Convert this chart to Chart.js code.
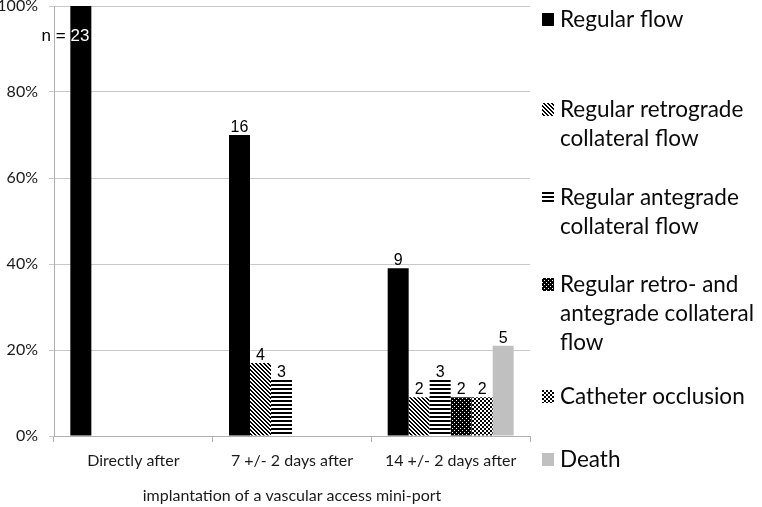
<!DOCTYPE html>
<html>
<head>
<meta charset="utf-8">
<script src="https://cdn.jsdelivr.net/npm/chart.js@4"></script>
<style>
  html, body { margin: 0; padding: 0; background: #fff; }
  canvas { display: block; }
</style>
</head>
<body>
<canvas id="chart" width="762" height="507"></canvas>
<script>
// data (percent of animals, n per bar)
const categories = ["Directly after", "7 +/- 2 days after", "14 +/- 2 days after"];
const legendLabels = [
  ["Regular flow"],
  ["Regular retrograde", "collateral flow"],
  ["Regular antegrade", "collateral flow"],
  ["Regular retro- and", "antegrade collateral", "flow"],
  ["Catheter occlusion"],
  ["Death"]
];
const regularFlow = [100, 70, 39];
const retrograde = [null, 17, 9];
const antegrade = [null, 13, 13];
const retroAntegrade = [null, null, 9];
const catheterOcclusion = [null, null, 9];
const death = [null, null, 21];

const regularFlowN = [23, 16, 9];
const retrogradeN = [null, 4, 2];
const antegradeN = [null, 3, 3];
const retroAntegradeN = [null, null, 2];
const catheterOcclusionN = [null, null, 2];
const deathN = [null, null, 5];

const yTicks = [0, 20, 40, 60, 80, 100];
const xTitle = "implantation of a vascular access mini-port";

const ctx = document.getElementById("chart").getContext("2d");

// small tiles for the hatched fills
function makePattern(size, paint) {
  const c = document.createElement("canvas");
  c.width = size; c.height = size;
  const g = c.getContext("2d");
  g.fillStyle = "#fff";
  g.fillRect(0, 0, size, size);
  g.fillStyle = "#000";
  for (let y = 0; y < size; y++) {
    for (let x = 0; x < size; x++) {
      if (paint(x, y)) g.fillRect(x, y, 1, 1);
    }
  }
  return ctx.createPattern(c, "repeat");
}

const diagPattern = makePattern(4, (x, y) => ((x - y + 8) % 4) < 2);
const horizPattern = makePattern(4, (x, y) => y % 4 === 0 || y % 4 === 1);
const densePattern = makePattern(4, (x, y) => !((x % 2 === 0) && (y % 2 === 0) && ((x + y) % 4 === 0)));
const checkPattern = makePattern(4, (x, y) => ((Math.floor(x / 2) + Math.floor(y / 2)) % 2) === 0);

const fills = ["#000000", diagPattern, horizPattern, densePattern, checkPattern, "#c0c0c0"];
const seriesValues = [regularFlow, retrograde, antegrade, retroAntegrade, catheterOcclusion, death];
const seriesCounts = [regularFlowN, retrogradeN, antegradeN, retroAntegradeN, catheterOcclusionN, deathN];

const datasets = seriesValues.map((vals, i) => ({
  label: legendLabels[i].join(" "),
  data: vals,
  backgroundColor: fills[i],
  borderWidth: 0,
  categoryPercentage: 0.794,
  barPercentage: 1.0
}));

// counts above bars, "n = 23" inside the first one
const barLabels = {
  id: "barLabels",
  afterDatasetsDraw(chart) {
    const c = chart.ctx;
    c.save();
    c.font = "16px 'Liberation Sans', Arial, sans-serif";
    c.textAlign = "center";
    c.textBaseline = "alphabetic";
    chart.data.datasets.forEach((ds, i) => {
      const meta = chart.getDatasetMeta(i);
      meta.data.forEach((bar, j) => {
        const n = seriesCounts[i][j];
        if (n == null || ds.data[j] == null) return;
        if (i === 0 && j === 0) {
          const txt = "n = " + n;
          const right = bar.x + bar.width / 2 - 2;
          const y = bar.y + 35;
          c.font = "17px 'Liberation Sans', Arial, sans-serif";
          c.textAlign = "right";
          c.fillStyle = "#000";
          c.fillText(txt, right, y);
          c.save();
          c.beginPath();
          c.rect(bar.x - bar.width / 2, bar.y, bar.width, bar.base - bar.y);
          c.clip();
          c.fillStyle = "#fff";
          c.fillText(txt, right, y);
          c.restore();
          c.font = "16px 'Liberation Sans', Arial, sans-serif";
          c.textAlign = "center";
          return;
        }
        c.fillStyle = "#000";
        c.fillText(String(n), bar.x, bar.y - 3);
      });
    });
    c.restore();
  }
};

// legend to the right, wrapped like the original
const sideLegend = {
  id: "sideLegend",
  afterDraw(chart) {
    const c = chart.ctx;
    const firstLineY = [20, 110, 198, 285, 397, 460];
    const lineStep = 29;
    c.save();
    c.font = "22.5px Lato, 'Open Sans', sans-serif";
    c.textAlign = "left";
    c.textBaseline = "middle";
    legendLabels.forEach((lines, i) => {
      const y0 = firstLineY[i];
      c.fillStyle = fills[i];
      c.fillRect(542, y0 - 7, 12, 13);
      c.fillStyle = "#0a0a0a";
      lines.forEach((ln, k) => c.fillText(ln, 560, y0 + k * lineStep));
    });
    c.restore();
  }
};

new Chart(ctx, {
  type: "bar",
  data: { labels: categories, datasets: datasets },
  options: {
    responsive: false,
    animation: false,
    devicePixelRatio: 1,
    layout: { padding: { top: 6, right: 232, bottom: 0, left: 0 } },
    plugins: {
      legend: { display: false },
      tooltip: { enabled: false }
    },
    scales: {
      x: {
        grid: { offset: true, drawOnChartArea: false, tickLength: 6, color: "#b0b0b0" },
        border: { color: "#b0b0b0" },
        ticks: {
          color: "#1a1a1a",
          font: { family: "Lato, 'Open Sans', sans-serif", size: 16 },
          padding: 9
        },
        title: {
          display: true,
          text: xTitle,
          color: "#1a1a1a",
          font: { family: "Lato, 'Open Sans', sans-serif", size: 16 },
          padding: { top: 0, bottom: 2 }
        },
        afterFit(scale) { scale.height = 71; }
      },
      y: {
        min: 0,
        max: 100,
        afterBuildTicks(scale) { scale.ticks = yTicks.map(v => ({ value: v })); },
        grid: { color: "#c8c8c8", tickLength: 5 },
        border: { color: "#b0b0b0" },
        ticks: {
          color: "#1a1a1a",
          font: { family: "Lato, 'Open Sans', sans-serif", size: 16 },
          padding: 11,
          callback: v => v + "%"
        },
        afterFit(scale) {
          scale.width = 54;
          scale.paddingTop = 0;
          scale.paddingBottom = 0;
        }
      }
    }
  },
  plugins: [barLabels, sideLegend]
});
</script>
</body>
</html>
